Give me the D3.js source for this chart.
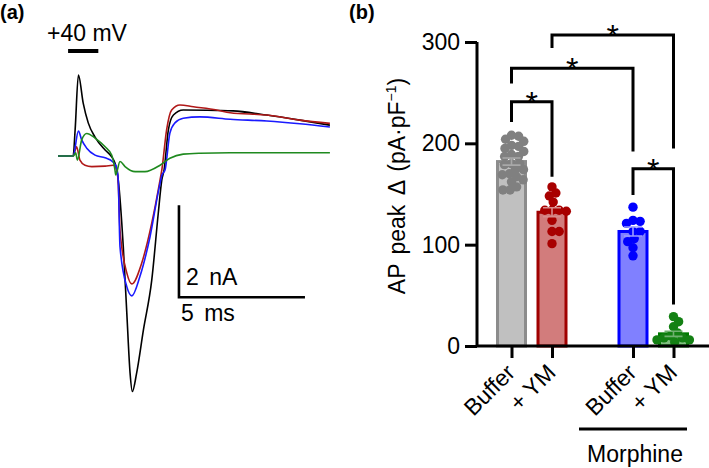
<!DOCTYPE html>
<html>
<head>
<meta charset="utf-8">
<script src="https://cdn.jsdelivr.net/npm/d3@7"></script>
<style>
  html, body { margin: 0; padding: 0; background: #fff; }
  svg { display: block; font-family: "Liberation Sans", Arial, sans-serif; }
</style>
</head>
<body>
<svg id="chart" width="709" height="468"></svg>
<script>
// ---------- Panel (a): current traces [time (ms), current (nA)] ----------
const blackTrace = [[0,0],[0.6,0],[0.68,0.57],[0.81,1.76],[1.0,1.15],[1.2,0.72],[1.47,0.41],[1.87,0.13],[2.13,-0.02],[2.26,-0.15],[2.33,-0.3],[2.39,-0.52],[2.59,-1.97],[2.73,-3.41],[2.86,-4.72],[2.95,-5.12],[3.12,-4.72],[3.39,-3.78],[3.72,-2.7],[3.98,-1.24],[4.12,-0.52],[4.21,-0.3],[4.38,0.57],[4.58,0.89],[4.97,1.0],[6.3,0.99],[6.94,0.98],[8.29,0.89],[9.6,0.78],[10.79,0.67]];
const redTrace = [[0,0],[0.6,0],[0.74,0.2],[0.87,-0.09],[1.07,-0.2],[1.34,-0.23],[1.87,-0.22],[2.19,-0.2],[2.33,-0.3],[2.39,-0.59],[2.46,-1.61],[2.73,-2.54],[2.93,-2.78],[3.32,-2.33],[3.72,-1.46],[4.05,-0.52],[4.12,-0.3],[4.31,0.57],[4.51,1.0],[4.84,1.11],[5.37,1.07],[6.3,1.0],[6.83,0.94],[8.29,0.89],[9.6,0.78],[10.79,0.71]];
const blueTrace = [[0,0],[0.6,0],[0.81,0.54],[0.94,0.35],[1.14,0.17],[1.47,0.02],[1.87,-0.04],[2.18,-0.13],[2.33,-0.26],[2.39,-0.52],[2.46,-1.97],[2.73,-2.84],[2.93,-3.04],[3.25,-2.62],[3.65,-1.76],[4.02,-0.67],[4.13,-0.41],[4.25,-0.3],[4.44,0.5],[4.64,0.72],[4.97,0.82],[5.63,0.85],[6.83,0.8],[8.29,0.76],[9.6,0.7],[10.79,0.63]];
const greenTrace = [[0,0],[0.61,0],[0.7,0.07],[0.77,-0.09],[0.94,0.35],[1.14,0.49],[1.47,0.39],[1.87,0.2],[2.13,0.02],[2.26,-0.3],[2.29,-0.41],[2.46,-0.12],[2.66,-0.23],[3.06,-0.34],[3.45,-0.34],[4.05,-0.2],[4.44,-0.05],[4.97,0.04],[5.63,0.06],[6.83,0.07],[10.79,0.07]];
const traceColors = ["#000000", "#b01818", "#1a1aff", "#1f8a1f"];
const voltageStep = {label: "+40 mV", start: 0.4, end: 1.6};
const scaleBar = {ms: 5, nA: 2, t0: 4.8, i0: -3.07, msLabel: "5 ms", nALabel: "2 nA"};

// ---------- Panel (b): AP peak data ----------
const categories = ["Buffer", "+ YM", "Buffer", "+ YM"];
const slots = [0, 1, 3, 4];
const barMeans = [182, 132, 113, 12];
const barSems = [3.5, 4.5, 4.5, 2.5];
const grayDots = [208, 204, 207, 202, 198, 195, 197, 187, 187, 189, 179, 180, 180, 174, 174, 169, 167, 170, 162, 164, 154, 154, 157, 192];
const redDots = [157, 148, 151, 142, 134, 134, 134, 133, 124, 113, 113, 101];
const blueDots = [137, 121, 124, 123, 113, 113, 106, 103, 97, 89];
const greenDots = [29, 24, 19, 13, 10, 8, 6, 6, 8, 4];
const yTicks = [0, 100, 200, 300];
// [fromIndex, toIndex, top, leftEnd, rightEnd]
const brackets = [[0, 1, 241, 221, 167], [0, 2, 274, 259, 192], [1, 3, 307, 294, 195], [2, 3, 175, 149, 41]];
const groupLabel = "Morphine";

const barFill = ["#c0c0c0", "#d27c7c", "#8080ff", "#7fbf7f"];
const barStroke = ["#8c8c8c", "#a00000", "#0000ff", "#007a00"];
const dotColor = ["#808080", "#a80000", "#0000ff", "#138013"];
const errColor = ["#a8a8a8", "#d88c8c", "#9c9cff", "#6fb06f"];

const svg = d3.select("#chart");

// ----- Panel (a) -----
const xa = d3.scaleLinear().domain([0, 5]).range([58, 184]);
const ya = d3.scaleLinear().domain([0, 2]).range([156, 64]);
const line = d3.line().x(d => xa(d[0])).y(d => ya(d[1])).curve(d3.curveMonotoneX);

svg.append("text").attr("x", 0).attr("y", 19).attr("font-size", 20).attr("font-weight", "bold").text("(a)");

[blackTrace, redTrace, blueTrace, greenTrace].forEach((tr, i) => {
  svg.append("path").datum(tr).attr("d", line).attr("fill", "none")
    .attr("stroke", traceColors[i]).attr("stroke-width", 1.6).attr("stroke-linejoin", "round");
});
svg.append("text").attr("x", 47).attr("y", 41).attr("font-size", 23).text(voltageStep.label);
svg.append("line").attr("x1", xa(voltageStep.start)).attr("x2", xa(voltageStep.end))
  .attr("y1", 51).attr("y2", 51).attr("stroke", "#000").attr("stroke-width", 4);

const sbx = xa(scaleBar.t0), sby = ya(scaleBar.i0);
svg.append("path")
  .attr("d", `M${sbx},${ya(scaleBar.i0 + scaleBar.nA)}L${sbx},${sby}L${xa(scaleBar.t0 + scaleBar.ms)},${sby}`)
  .attr("fill", "none").attr("stroke", "#000").attr("stroke-width", 2.6);
svg.append("text").attr("x", sbx + 7).attr("y", sby - 12).attr("font-size", 23).attr("word-spacing", 4).text(scaleBar.nALabel);
svg.append("text").attr("x", sbx + 2).attr("y", sby + 24).attr("font-size", 23).attr("word-spacing", 4).text(scaleBar.msLabel);

// ----- Panel (b) -----
svg.append("text").attr("x", 349).attr("y", 19).attr("font-size", 20).attr("font-weight", "bold").text("(b)");

const yb = d3.scaleLinear().domain([0, 300]).range([346, 42]);
const xb = d3.scaleLinear().domain([0, 4]).range([511.5, 673.5]);
const barW = 28;

const g = svg.append("g");

categories.forEach((c, i) => {
  const cx = xb(slots[i]);
  g.append("rect").attr("x", cx - barW / 2).attr("width", barW)
    .attr("y", yb(barMeans[i])).attr("height", yb(0) - yb(barMeans[i]))
    .attr("fill", barFill[i]).attr("stroke", barStroke[i]).attr("stroke-width", 3);
});

function swarm(vals, d) {
  const pts = vals.map(v => ({v, y: yb(v)})).sort((a, b) => a.y - b.y);
  const placed = [];
  for (const p of pts) {
    const cands = [0];
    for (const q of placed) {
      const dy = Math.abs(q.y - p.y);
      if (dy < d) { const dx = Math.sqrt(d * d - dy * dy); cands.push(q.dx + dx, q.dx - dx); }
    }
    cands.sort((a, b) => Math.abs(a) - Math.abs(b));
    for (const c of cands) {
      if (placed.every(q => (q.dx - c) ** 2 + (q.y - p.y) ** 2 >= d * d - 1e-6)) { p.dx = c; break; }
    }
    placed.push(p);
  }
  return placed;
}
[grayDots, redDots, blueDots, greenDots].forEach((vals, i) => {
  const cx = xb(slots[i]);
  swarm(vals, 7.2).forEach(p => {
    g.append("circle").attr("cx", cx + p.dx).attr("cy", p.y).attr("r", 4.7).attr("fill", dotColor[i]);
  });
});

categories.forEach((c, i) => {
  const cx = xb(slots[i]);
  const lo = yb(barMeans[i] - barSems[i]), hi = yb(barMeans[i] + barSems[i]);
  g.append("path").attr("d", `M${cx - 9},${hi}H${cx + 9}M${cx},${hi}V${lo}M${cx - 9},${lo}H${cx + 9}`)
    .attr("fill", "none").attr("stroke", errColor[i]).attr("stroke-width", 1.6);
});

const yAxis = d3.axisLeft(yb).tickValues(yTicks).tickSize(12).tickPadding(5);
const ya_g = svg.append("g").attr("transform", "translate(477,0)").call(yAxis);
ya_g.select(".domain").attr("stroke-width", 3).attr("d", `M0,${yb(300)}V${yb(0)}`);
ya_g.selectAll(".tick line").attr("stroke-width", 3);
ya_g.selectAll(".tick text").attr("font-size", 23).attr("font-family", "Liberation Sans, Arial, sans-serif").attr("fill", "#000");

const xAxis = d3.axisBottom(xb).tickValues(slots).tickSize(12).tickFormat("");
const xa_g = svg.append("g").attr("transform", `translate(0,${yb(0)})`).call(xAxis);
xa_g.select(".domain").attr("stroke-width", 3).attr("d", "M476,0H709");
xa_g.selectAll(".tick line").attr("stroke-width", 3);

categories.forEach((c, i) => {
  const cx = xb(slots[i]);
  svg.append("text").attr("transform", `translate(${cx + 5},374) rotate(-45)`)
    .attr("text-anchor", "end").attr("font-size", 23).text(c);
});

const yl = svg.append("text").attr("transform", "translate(405,186) rotate(-90)")
  .attr("text-anchor", "middle").attr("font-size", 23).attr("word-spacing", 3);
yl.append("tspan").text("AP peak \u0394 (pA\u00B7pF");
yl.append("tspan").attr("font-size", 14).attr("dy", -9).text("\u22121");
yl.append("tspan").attr("dy", 9).text(")");

svg.append("line").attr("x1", 579).attr("x2", 687).attr("y1", 429).attr("y2", 429)
  .attr("stroke", "#000").attr("stroke-width", 3);
svg.append("text").attr("x", 635).attr("y", 462).attr("text-anchor", "middle").attr("font-size", 23).text(groupLabel);

brackets.forEach(([a, b, top, le, re]) => {
  const x1 = xb(slots[a]), x2 = xb(slots[b]);
  svg.append("path").attr("d", `M${x1},${yb(le)}V${yb(top)}H${x2}V${yb(re)}`)
    .attr("fill", "none").attr("stroke", "#000").attr("stroke-width", 3);
  svg.append("text").attr("x", (x1 + x2) / 2).attr("y", yb(top) + 12).attr("text-anchor", "middle")
    .attr("font-size", 32).text("*");
});
</script>
</body>
</html>
